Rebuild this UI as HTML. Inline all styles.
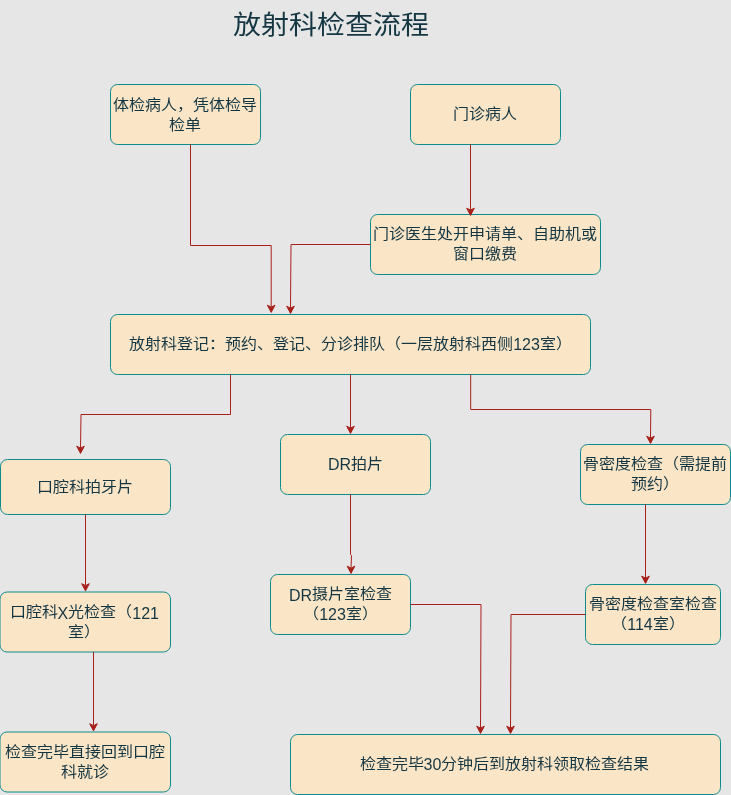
<!DOCTYPE html>
<html lang="zh-CN"><head><meta charset="utf-8"><title>放射科检查流程</title>
<style>
html,body{margin:0;padding:0;}
body{width:731px;height:795px;background:#e6e6e6;position:relative;overflow:hidden;font-family:"Liberation Sans",sans-serif;color:#143642;}
.title{position:absolute;left:0;top:0;width:661px;text-align:center;font-size:28px;line-height:48px;white-space:nowrap;font-weight:300;transform:scaleY(0.93)}
.lb{position:absolute;display:flex;align-items:center;justify-content:center;text-align:center;font-size:16px;line-height:21px;white-space:nowrap}
.lb>div{transform:scaleY(0.93)}
.l{display:inline-block;position:relative;top:1px;transform:scaleY(1.0753)}
</style></head><body>
<svg width="731" height="795" viewBox="0 0 731 795" style="position:absolute;left:0;top:0"><g transform="translate(0.5,0.5)"><rect x="110" y="84" width="150" height="60" rx="7.0" ry="7.0" fill="#fae5c7" stroke="#0f8b8d"/><rect x="410" y="84" width="150" height="60" rx="7.0" ry="7.0" fill="#fae5c7" stroke="#0f8b8d"/><rect x="370" y="214" width="230" height="60" rx="7.0" ry="7.0" fill="#fae5c7" stroke="#0f8b8d"/><rect x="110" y="314" width="480" height="60" rx="7.0" ry="7.0" fill="#fae5c7" stroke="#0f8b8d"/><rect x="0" y="459" width="170" height="55" rx="7.0" ry="7.0" fill="#fae5c7" stroke="#0f8b8d"/><rect x="280" y="434" width="150" height="60" rx="7.0" ry="7.0" fill="#fae5c7" stroke="#0f8b8d"/><rect x="580" y="444" width="150" height="60" rx="7.0" ry="7.0" fill="#fae5c7" stroke="#0f8b8d"/><rect x="-0.5" y="591.5" width="170.5" height="60" rx="7.0" ry="7.0" fill="#fae5c7" stroke="#0f8b8d"/><rect x="270" y="574" width="140" height="60" rx="7.0" ry="7.0" fill="#fae5c7" stroke="#0f8b8d"/><rect x="585" y="584" width="135" height="60" rx="7.0" ry="7.0" fill="#fae5c7" stroke="#0f8b8d"/><rect x="-0.5" y="731.5" width="170.5" height="60" rx="7.0" ry="7.0" fill="#fae5c7" stroke="#0f8b8d"/><rect x="290" y="734" width="430" height="60" rx="7.0" ry="7.0" fill="#fae5c7" stroke="#0f8b8d"/><path d="M190 144 L190 245 L270.7 245 L270.7 306.632" fill="none" stroke="#a8201a" stroke-miterlimit="10"/><path d="M270.7 311.882 L266.9 304.682 L270.7 306.632 L274.5 304.682 Z" fill="#a8201a" stroke="#a8201a" stroke-miterlimit="10"/><path d="M470 144 L470 209.632" fill="none" stroke="#a8201a" stroke-miterlimit="10"/><path d="M470 214.882 L466.2 207.68200000000002 L470 209.632 L473.8 207.68200000000002 Z" fill="#a8201a" stroke="#a8201a" stroke-miterlimit="10"/><path d="M370 244 L290.5 244 L290 307.632" fill="none" stroke="#a8201a" stroke-miterlimit="10"/><path d="M290 312.882 L286.2 305.682 L290 307.632 L293.8 305.682 Z" fill="#a8201a" stroke="#a8201a" stroke-miterlimit="10"/><path d="M230 374 L230 414 L80.5 414 L80 447.632" fill="none" stroke="#a8201a" stroke-miterlimit="10"/><path d="M80 452.882 L76.2 445.682 L80 447.632 L83.8 445.682 Z" fill="#a8201a" stroke="#a8201a" stroke-miterlimit="10"/><path d="M350 374 L350 427.632" fill="none" stroke="#a8201a" stroke-miterlimit="10"/><path d="M350 432.882 L346.2 425.682 L350 427.632 L353.8 425.682 Z" fill="#a8201a" stroke="#a8201a" stroke-miterlimit="10"/><path d="M470.2 374 L470.2 409 L650.3 409 L650 437.632" fill="none" stroke="#a8201a" stroke-miterlimit="10"/><path d="M650 442.882 L646.2 435.682 L650 437.632 L653.8 435.682 Z" fill="#a8201a" stroke="#a8201a" stroke-miterlimit="10"/><path d="M85 514 L85 585.132" fill="none" stroke="#a8201a" stroke-miterlimit="10"/><path d="M85 590.382 L81.2 583.1819999999999 L85 585.132 L88.8 583.1819999999999 Z" fill="#a8201a" stroke="#a8201a" stroke-miterlimit="10"/><path d="M350 494 L350 553.8 L351 555 L350.5 567.632" fill="none" stroke="#a8201a" stroke-miterlimit="10"/><path d="M350.5 572.882 L346.7 565.6819999999999 L350.5 567.632 L354.3 565.6819999999999 Z" fill="#a8201a" stroke="#a8201a" stroke-miterlimit="10"/><path d="M645 504 L645 577.632" fill="none" stroke="#a8201a" stroke-miterlimit="10"/><path d="M645 582.882 L641.2 575.6819999999999 L645 577.632 L648.8 575.6819999999999 Z" fill="#a8201a" stroke="#a8201a" stroke-miterlimit="10"/><path d="M93 651.5 L93 725.132" fill="none" stroke="#a8201a" stroke-miterlimit="10"/><path d="M93 730.382 L89.2 723.1819999999999 L93 725.132 L96.8 723.1819999999999 Z" fill="#a8201a" stroke="#a8201a" stroke-miterlimit="10"/><path d="M410 604 L480.5 604 L480 727.632" fill="none" stroke="#a8201a" stroke-miterlimit="10"/><path d="M480 732.882 L476.2 725.6819999999999 L480 727.632 L483.8 725.6819999999999 Z" fill="#a8201a" stroke="#a8201a" stroke-miterlimit="10"/><path d="M585 614 L510.5 614 L510 727.632" fill="none" stroke="#a8201a" stroke-miterlimit="10"/><path d="M510 732.882 L506.2 725.6819999999999 L510 727.632 L513.8 725.6819999999999 Z" fill="#a8201a" stroke="#a8201a" stroke-miterlimit="10"/></g></svg>
<div id="tx" style="position:absolute;left:0;top:0;width:731px;height:795px;will-change:transform">
<div class="title" style="left:233px;top:2px;width:auto;text-align:left">放射科检查流程</div>
<div class="lb" style="left:109.5px;top:84.8px;width:150px;height:60px"><div>体检病人，凭体检导<br>检单</div></div><div class="lb" style="left:409.5px;top:83.8px;width:150px;height:60px"><div>门诊病人</div></div><div class="lb" style="left:369.5px;top:213.8px;width:230px;height:60px"><div>门诊医生处开申请单、自助机或<br>窗口缴费</div></div><div class="lb" style="left:110.5px;top:313.8px;width:480px;height:60px"><div>放射科登记：预约、登记、分诊排队（一层放射科西侧<span class="l">123</span>室）</div></div><div class="lb" style="left:-0.5px;top:458.8px;width:170px;height:55px"><div>口腔科拍牙片</div></div><div class="lb" style="left:280.5px;top:433.8px;width:150px;height:60px"><div><span class="l">DR</span>拍片</div></div><div class="lb" style="left:579.5px;top:443.8px;width:150px;height:60px"><div>骨密度检查（需提前<br>预约）</div></div><div class="lb" style="left:-1.0px;top:592.3px;width:170.5px;height:60px"><div>口腔科<span class="l">X</span>光检查（<span class="l">121</span><br>室）</div></div><div class="lb" style="left:270.5px;top:573.8px;width:140px;height:60px"><div><span class="l">DR</span>摄片室检查<br>（<span class="l">123</span>室）</div></div><div class="lb" style="left:585.5px;top:583.8px;width:135px;height:60px"><div>骨密度检查室检查<br><span style="position:relative;left:-5px">（<span class="l">114</span>室）</span></div></div><div class="lb" style="left:0.0px;top:732.3px;width:170.5px;height:60px"><div>检查完毕直接回到口腔<br>科就诊</div></div><div class="lb" style="left:289.5px;top:733.8px;width:430px;height:60px"><div>检查完毕<span class="l">30</span>分钟后到放射科领取检查结果</div></div>
</div>
</body></html>
